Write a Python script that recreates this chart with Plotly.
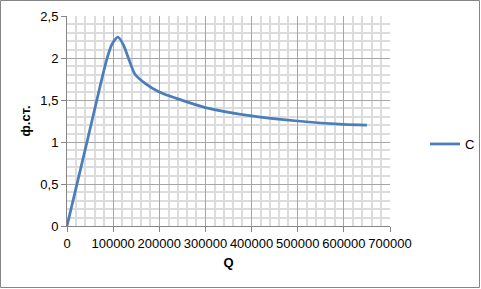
import plotly.graph_objects as go

q_values = [0, 42500, 85000, 97000, 110000, 122000, 135000, 147000, 170000, 200000,
            250000, 300000, 400000, 500000, 600000, 650000]
c_values = [0, 0.98, 1.96, 2.16, 2.25, 2.16, 1.97, 1.81, 1.695, 1.595,
            1.495, 1.41, 1.31, 1.25, 1.21, 1.20]
series_name = "C"
x_title = "Q"
y_title = "ф.ст."

W, H = 481, 289
L, R, T, B = 67, 91, 16, 63
pw, ph = W - L - R, H - T - B

fig = go.Figure()
fig.add_trace(go.Scatter(
    x=q_values, y=c_values, mode="lines", name=series_name,
    line=dict(color="#4a7ebb", width=2.75, shape="spline", smoothing=0.6),
))

axis_font = dict(family="Liberation Sans, Arial, sans-serif", size=13, color="#000000")
fig.update_layout(
    width=W, height=H,
    margin=dict(l=L, r=R, t=T, b=B, autoexpand=False),
    paper_bgcolor="white", plot_bgcolor="white",
    separators=", ",
    font=axis_font,
    showlegend=True,
    legend=dict(x=(425 - L) / pw, y=(H - B - 144) / ph, xanchor="left", yanchor="middle",
                font=dict(family="Liberation Sans, Arial, sans-serif", size=13, color="#000"),
                bgcolor="rgba(0,0,0,0)", itemwidth=30, tracegroupgap=0),
    xaxis=dict(range=[0, 700000], dtick=100000, tickformat="d",
               showgrid=True, gridcolor="#a6a6a6", gridwidth=1,
               minor=dict(dtick=20000, showgrid=True, gridcolor="#dcdcdc", gridwidth=1.5),
               showline=True, linecolor="#868686", linewidth=1,
               ticks="outside", ticklen=5, tickcolor="#868686",
               zeroline=False, fixedrange=True,
               title=dict(text="<b>" + x_title + "</b>", standoff=8,
                          font=dict(family="Liberation Sans, Arial, sans-serif", size=13))),
    yaxis=dict(range=[0, 2.5], dtick=0.5,
               showgrid=True, gridcolor="#a6a6a6", gridwidth=1,
               minor=dict(dtick=0.1, showgrid=True, gridcolor="#dcdcdc", gridwidth=1.5),
               showline=True, linecolor="#868686", linewidth=1,
               ticks="outside", ticklen=5, tickcolor="#868686",
               zeroline=False, fixedrange=True,
               title=dict(text="<b>" + y_title + "</b>", standoff=6,
                          font=dict(family="Liberation Sans, Arial, sans-serif", size=13))),
)

fig.add_shape(type="rect", xref="paper", yref="paper",
              x0=(0.5 - L) / pw, x1=(W - 1.5 - L) / pw,
              y0=(1.5 - B) / ph, y1=(H - 0.5 - B) / ph,
              line=dict(color="#868686", width=1), fillcolor="rgba(0,0,0,0)", layer="above")

fig.write_html("out.html", config={"displayModeBar": False})
